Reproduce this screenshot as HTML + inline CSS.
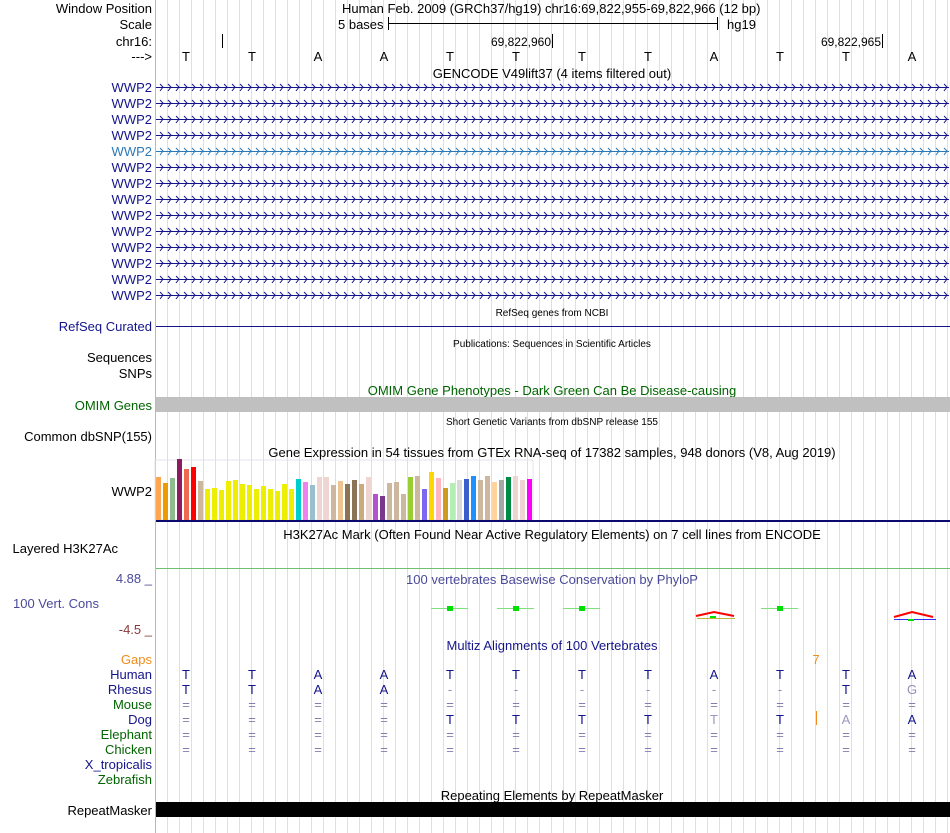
<!DOCTYPE html>
<html><head><meta charset="utf-8">
<style>
html,body{margin:0;padding:0;background:#fff;}
svg{display:block;font-family:"Liberation Sans",sans-serif;}
</style></head>
<body>
<svg id="s" width="950" height="833" xmlns="http://www.w3.org/2000/svg">
<defs>
<pattern id="grid" x="167" y="0" width="12" height="833" patternUnits="userSpaceOnUse">
<rect x="0" y="0" width="1" height="833" fill="#dcdcf4"/>
</pattern>
<pattern id="chev" x="158" y="0" width="8" height="20" patternUnits="userSpaceOnUse">
<path d="M1,-3 L4,0 L1,3" transform="translate(0,10)" fill="none" stroke="currentColor" stroke-width="1"/>
</pattern>
</defs>
<rect x="156" y="0" width="794" height="833" fill="url(#grid)"/>
<rect x="155" y="0" width="1" height="833" fill="#f4a0a0"/>
<g id="dyn"></g>

<g font-size="13" fill="#000" text-anchor="end">
<text x="152" y="13">Window Position</text>
<text x="152" y="29">Scale</text>
<text x="152" y="46">chr16:</text>
<text x="152" y="61">---&gt;</text>
</g>
<g font-size="13" fill="#000">
<text x="342" y="13">Human Feb. 2009 (GRCh37/hg19)   chr16:69,822,955-69,822,966 (12 bp)</text>
<text x="338" y="29">5 bases</text>
<text x="727" y="29">hg19</text>
<text x="551" y="46" text-anchor="end" font-size="12">69,822,960</text>
<text x="881" y="46" text-anchor="end" font-size="12">69,822,965</text>
<text x="552" y="78" text-anchor="middle">GENCODE V49lift37 (4 items filtered out)</text>
</g>
<rect x="388" y="23" width="330" height="1" fill="#000"/>
<rect x="388" y="17" width="1" height="13" fill="#000"/>
<rect x="717" y="17" width="1" height="13" fill="#000"/>
<rect x="222" y="34" width="1" height="14" fill="#000"/>
<rect x="552" y="34" width="1" height="14" fill="#000"/>
<rect x="882" y="34" width="1" height="14" fill="#000"/>
<g font-size="13" fill="#000" text-anchor="middle">
<text x="186" y="61">T</text><text x="252" y="61">T</text><text x="318" y="61">A</text><text x="384" y="61">A</text><text x="450" y="61">T</text><text x="516" y="61">T</text><text x="582" y="61">T</text><text x="648" y="61">T</text><text x="714" y="61">A</text><text x="780" y="61">T</text><text x="846" y="61">T</text><text x="912" y="61">A</text>
</g>

<g font-size="13" fill="#14148c" text-anchor="end">
<text x="152" y="92">WWP2</text><text x="152" y="108">WWP2</text><text x="152" y="124">WWP2</text><text x="152" y="140">WWP2</text>
<text x="152" y="156" fill="#2a78b8">WWP2</text>
<text x="152" y="172">WWP2</text><text x="152" y="188">WWP2</text><text x="152" y="204">WWP2</text><text x="152" y="220">WWP2</text><text x="152" y="236">WWP2</text><text x="152" y="252">WWP2</text><text x="152" y="268">WWP2</text><text x="152" y="284">WWP2</text><text x="152" y="300">WWP2</text>
<text x="152" y="331">RefSeq Curated</text>
<text x="152" y="496" fill="#000">WWP2</text>
</g>
<g font-size="13" fill="#000" text-anchor="end">
<text x="152" y="362">Sequences</text>
<text x="152" y="378">SNPs</text>
<text x="152" y="441">Common dbSNP(155)</text>
</g>
<text x="118" y="553" font-size="13" fill="#000" text-anchor="end">Layered H3K27Ac</text>
<text x="152" y="410" font-size="13" fill="#006400" text-anchor="end">OMIM Genes</text>

<g font-size="10" fill="#000" text-anchor="middle">
<text x="552" y="316">RefSeq genes from NCBI</text>
<text x="552" y="347">Publications: Sequences in Scientific Articles</text>
<text x="552" y="425">Short Genetic Variants from dbSNP release 155</text>
</g>
<text x="552" y="395" font-size="13" fill="#006400" text-anchor="middle">OMIM Gene Phenotypes - Dark Green Can Be Disease-causing</text>
<text x="552" y="457" font-size="13" fill="#000" text-anchor="middle">Gene Expression in 54 tissues from GTEx RNA-seq of 17382 samples, 948 donors (V8, Aug 2019)</text>
<text x="552" y="539" font-size="13" fill="#000" text-anchor="middle">H3K27Ac Mark (Often Found Near Active Regulatory Elements) on 7 cell lines from ENCODE</text>

<rect x="156" y="326" width="794" height="1" fill="#14148c"/>
<rect x="156" y="397" width="794" height="15" fill="#c0c0c0"/>
<rect x="156" y="520" width="794" height="2" fill="#0a0a6e"/>
<rect x="156" y="568" width="794" height="1" fill="#70c070"/>

<g font-size="13">
<text x="152" y="583" fill="#4a4a9a" text-anchor="end">4.88 _</text>
<text x="13" y="608" fill="#4a4a9a">100 Vert. Cons</text>
<text x="152" y="634" fill="#8b3a3a" text-anchor="end">-4.5 _</text>
<text x="552" y="584" fill="#4a4a9a" text-anchor="middle">100 vertebrates Basewise Conservation by PhyloP</text>
<text x="552" y="650" fill="#14148c" text-anchor="middle">Multiz Alignments of 100 Vertebrates</text>
<text x="152" y="664" fill="#f08c1c" text-anchor="end">Gaps</text>
<text x="816" y="664" fill="#f08c1c" text-anchor="middle">7</text>
<text x="152" y="679" fill="#14148c" text-anchor="end">Human</text>
<text x="152" y="694" fill="#14148c" text-anchor="end">Rhesus</text>
<text x="152" y="709" fill="#006400" text-anchor="end">Mouse</text>
<text x="152" y="724" fill="#14148c" text-anchor="end">Dog</text>
<text x="152" y="739" fill="#006400" text-anchor="end">Elephant</text>
<text x="152" y="754" fill="#006400" text-anchor="end">Chicken</text>
<text x="152" y="769" fill="#14148c" text-anchor="end">X_tropicalis</text>
<text x="152" y="784" fill="#006400" text-anchor="end">Zebrafish</text>
<text x="552" y="800" fill="#000" text-anchor="middle">Repeating Elements by RepeatMasker</text>
<text x="152" y="815" fill="#000" text-anchor="end">RepeatMasker</text>
</g>
<rect x="156" y="802" width="794" height="15" fill="#000"/>

<!-- conservation glyphs -->
<g>
<rect x="431" y="608" width="37" height="1" fill="#80e080"/><rect x="447" y="606" width="6" height="5" fill="#00e000"/>
<rect x="497" y="608" width="37" height="1" fill="#80e080"/><rect x="513" y="606" width="6" height="5" fill="#00e000"/>
<rect x="563" y="608" width="37" height="1" fill="#80e080"/><rect x="579" y="606" width="6" height="5" fill="#00e000"/>
<rect x="761" y="608" width="37" height="1" fill="#80e080"/><rect x="777" y="606" width="6" height="5" fill="#00e000"/>
<path d="M696,616 L714,612 L734,616" fill="none" stroke="#ff0000" stroke-width="2"/>
<rect x="697" y="618" width="38" height="1" fill="#b8b840"/>
<rect x="710" y="616" width="6" height="2" fill="#00e000"/>
<path d="M894,617 L912,612 L933,617" fill="none" stroke="#ff0000" stroke-width="2"/>
<rect x="894" y="619" width="42" height="1" fill="#3030ff"/>
<rect x="908" y="619" width="6" height="2" fill="#00e000"/>
</g>

<!-- multiz -->
<g font-size="13" text-anchor="middle" fill="#14148c">
<text x="186" y="679">T</text><text x="252" y="679">T</text><text x="318" y="679">A</text><text x="384" y="679">A</text><text x="450" y="679">T</text><text x="516" y="679">T</text><text x="582" y="679">T</text><text x="648" y="679">T</text><text x="714" y="679">A</text><text x="780" y="679">T</text><text x="846" y="679">T</text><text x="912" y="679">A</text>
<text x="186" y="694">T</text><text x="252" y="694">T</text><text x="318" y="694">A</text><text x="384" y="694">A</text>
<text x="450" y="694" fill="#9090b8">-</text><text x="516" y="694" fill="#9090b8">-</text><text x="582" y="694" fill="#9090b8">-</text><text x="648" y="694" fill="#9090b8">-</text><text x="714" y="694" fill="#9090b8">-</text><text x="780" y="694" fill="#9090b8">-</text>
<text x="846" y="694">T</text><text x="912" y="694" fill="#9090b8">G</text>
<text x="450" y="724">T</text><text x="516" y="724">T</text><text x="582" y="724">T</text><text x="648" y="724">T</text><text x="714" y="724" fill="#9898c0">T</text><text x="780" y="724">T</text><text x="846" y="724" fill="#9898c0">A</text><text x="912" y="724">A</text>
</g>
<rect x="816" y="711" width="1" height="14" fill="#f08c1c"/>
<g id="eq" font-size="13" text-anchor="middle" fill="#8080b0"></g>
</svg>
<script>
var NS="http://www.w3.org/2000/svg";
var dyn=document.getElementById('dyn');
function el(t,a,p){var e=document.createElementNS(NS,t);for(var k in a)e.setAttribute(k,a[k]);(p||dyn).appendChild(e);return e;}
// gene lines
for(var i=0;i<14;i++){var y=87+16*i;var c=(i==4)?'#2a78b8':'#14148c';
 el('rect',{x:156,y:y,width:793,height:1,fill:c});
 var d='';for(var x=160;x<946;x+=8){d+='M'+x+','+(y-3)+' L'+(x+3)+','+y+' L'+x+','+(y+4)+' ';}
 el('path',{d:d,fill:'none',stroke:c,'stroke-width':1});
}
// bars
var h=[43,37,42,61,51,53,39,31,32,30,39,40,36,35,31,34,31,29,36,31,41,38,35,43,43,35,39,36,40,36,43,26,24,37,38,26,43,44,31,48,42,32,37,40,41,44,40,44,38,40,43,44,40,41];
var Y='#eeee00';
var col=['#ffa54f','#ee9a00','#8fbc8f','#8b1c62','#ee6a50','#ff0000','#cdb79e',Y,Y,Y,Y,Y,Y,Y,Y,Y,Y,Y,Y,Y,'#00cdcd','#ee82ee','#9ac0cd','#eed5d2','#eed5d2','#cdb79e','#eec591','#8b7355','#8b7355','#cdaa7d','#eed5d2','#b452cd','#7a378b','#cdb79e','#cdb79e','#cdb79e','#9acd32','#cdb79e','#7b68ee','#ffd700','#ffb6c1','#cd9b1d','#b4eeb4','#d9d9d9','#3a5fcd','#1e90ff','#cdb79e','#cdb79e','#ffd39b','#a6a6a6','#008b45','#eed5d2','#eed5d2','#ff00ff'];
el('rect',{x:155,y:460,width:378,height:60,fill:'none',stroke:'#e4e4ec','stroke-width':1});
for(var i=0;i<54;i++){el('rect',{x:156+7*i,y:520-h[i],width:5,height:h[i],fill:col[i]});}
// equals signs
var eq=document.getElementById('eq');
var rows={709:12,739:12,754:12,724:4};
for(var r in rows){for(var k=0;k<rows[r];k++){var t=el('text',{x:186+66*k,y:r},eq);t.textContent='=';}}
</script>
</body></html>
